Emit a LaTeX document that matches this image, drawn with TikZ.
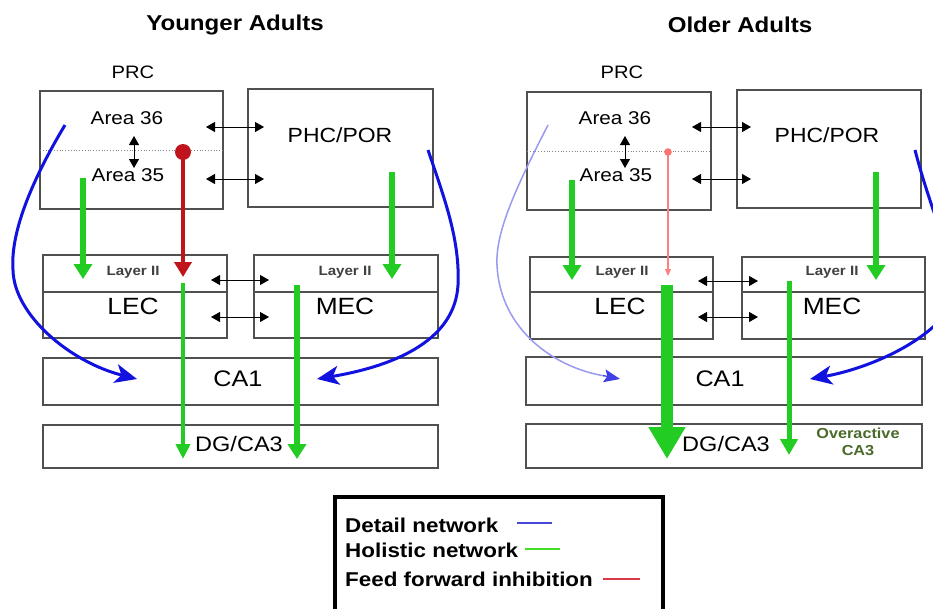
\documentclass[tikz,border=0pt]{standalone}
\usepackage{fontspec}
\setmainfont{Liberation Sans}[FakeStretch=1.12]
\usetikzlibrary{arrows.meta}
\definecolor{boxgrey}{HTML}{505050}
\definecolor{hgreen}{HTML}{22CC22}
\definecolor{dblue}{HTML}{1212E0}
\definecolor{lblue}{HTML}{9A9AF0}
\definecolor{ired}{HTML}{C0141C}
\definecolor{lred}{HTML}{FF8080}
\definecolor{ovgreen}{HTML}{4A6A2A}
\definecolor{legblue}{HTML}{4848D8}
\definecolor{leggreen}{HTML}{44DD22}
\definecolor{legred}{HTML}{D83848}
\newcommand{\fs}[1]{\fontsize{#1}{#1}\selectfont}
\tikzset{
  box/.style={draw=boxgrey, line width=1.5pt, inner sep=0pt, outer sep=0pt, anchor=north west},
  lbl/.style={inner sep=0pt, text=black},
  dbl/.style={black, line width=0.8pt, {Triangle[width=10pt,length=9pt]}-{Triangle[width=10pt,length=9pt]}},
  grarrow/.style={hgreen, line width=5.5pt, -{Triangle[width=18pt,length=15pt]}},
  thingr/.style={hgreen, line width=4pt, -{Triangle[width=14pt,length=15pt]}},
  bluearr/.style={dblue, line width=3pt, -{Stealth[width=19pt,length=22pt,inset=6pt]}},
  redarr/.style={ired, line width=4.5pt, -{Triangle[width=17pt,length=15pt]}},
}
\begin{document}
\begin{tikzpicture}[x=1pt,y=-1pt]
\useasboundingbox (0,0) rectangle (933,608);
\clip (0,0) rectangle (933,608);
\fill[white] (0,0) rectangle (933,608);

% ================= Younger adults =================
\node[lbl, font=\bfseries\fs{21.5}] (yTitle) at (235,25) {Younger Adults};
\node[lbl, font=\fs{18}] (yPRClab) at (133,72) {PRC};
\node[box, minimum width=183pt, minimum height=118pt] (yPRC) at (40,91) {};
\node[box, minimum width=185pt, minimum height=118pt] (yPHC) at (248,89) {};
\node[lbl, font=\fs{20.5}] (yPHCt) at (340,135) {PHC/POR};
\draw[boxgrey!70, line width=0.8pt, dotted] (40,150) coordinate (yDotL) -- (223,150) coordinate (yDotR);
\node[lbl, font=\fs{18.5}] (yA36) at (127,118) {Area 36};
\node[lbl, font=\fs{18.5}] (yA35) at (128,175) {Area 35};
\coordinate (yV1) at (134,136); \coordinate (yV2) at (134,168);
\draw[dbl] (yV1) -- (yV2);
\coordinate (yH1a) at (206,127); \coordinate (yH1b) at (264,127);
\coordinate (yH2a) at (206,179); \coordinate (yH2b) at (264,179);
\draw[dbl] (yH1a) -- (yH1b);
\draw[dbl] (yH2a) -- (yH2b);

\node[box, minimum width=184pt, minimum height=83pt] (yLEC) at (43,255) {};
\node[box, minimum width=184pt, minimum height=83pt] (yMEC) at (254,255) {};
\draw[boxgrey, line width=1.5pt] (43,292) -- (227,292);
\draw[boxgrey, line width=1.5pt] (254,292) -- (438,292);
\node[lbl, font=\bfseries\fs{13.5}, text=black!75] (yL2a) at (133,272) {Layer II};
\node[lbl, font=\bfseries\fs{13.5}, text=black!75] (yL2b) at (345,272) {Layer II};
\node[lbl, font=\fs{23.5}] (yLECt) at (133,306) {LEC};
\node[lbl, font=\fs{23.5}] (yMECt) at (345,306) {MEC};
\coordinate (yE1a) at (211,280); \coordinate (yE1b) at (269,280);
\coordinate (yE2a) at (211,317); \coordinate (yE2b) at (269,317);
\draw[dbl] (yE1a) -- (yE1b);
\draw[dbl] (yE2a) -- (yE2b);

\node[box, minimum width=395pt, minimum height=47pt] (yCA1) at (43,358) {};
\node[lbl, font=\fs{22.5}] (yCA1t) at (238,379) {CA1};
\node[box, minimum width=395pt, minimum height=43pt] (yDG) at (43,425) {};
\node[lbl, font=\fs{21}] (yDGt) at (239,444) {DG/CA3};

% younger connectors
\coordinate (yB1s) at (65,125); \coordinate (yB1e) at (137,379);
\draw[bluearr] (yB1s) .. controls (35,175) and (10,230) .. (13,270) .. controls (14,315) and (70,362) .. (yB1e);
\coordinate (yB2s) at (428,150); \coordinate (yB2e) at (317,379);
\draw[bluearr] (yB2s) .. controls (445,200) and (460,240) .. (458,285) .. controls (455,338) and (400,365) .. (yB2e);
\coordinate (yG1s) at (83,178); \coordinate (yG1e) at (83,279);
\draw[grarrow] (yG1s) -- (yG1e);
\coordinate (yG2s) at (392,172); \coordinate (yG2e) at (392,279);
\draw[grarrow] (yG2s) -- (yG2e);
\coordinate (yRs) at (183,152); \coordinate (yRe) at (183,277);
\draw[redarr] (yRs) -- (yRe);
\fill[ired] (yRs) circle (8pt);
\coordinate (yG3s) at (183,283); \coordinate (yG3e) at (183,459);
\draw[thingr] (yG3s) -- (yG3e);
\coordinate (yG4s) at (297,285); \coordinate (yG4e) at (297,459);
\draw[grarrow] (yG4s) -- (yG4e);

% ================= Older adults =================
\node[lbl, font=\bfseries\fs{21.5}] (oTitle) at (740,25) {Older Adults};
\node[lbl, font=\fs{18}] (oPRClab) at (622,72) {PRC};
\node[box, minimum width=184pt, minimum height=118pt] (oPRC) at (527,92) {};
\node[box, minimum width=184pt, minimum height=118pt] (oPHC) at (737,90) {};
\node[lbl, font=\fs{20.5}] (oPHCt) at (827,135) {PHC/POR};
\draw[boxgrey!70, line width=0.8pt, dotted] (527,151) coordinate (oDotL) -- (711,151) coordinate (oDotR);
\node[lbl, font=\fs{18.5}] (oA36) at (615,118) {Area 36};
\node[lbl, font=\fs{18.5}] (oA35) at (616,175) {Area 35};
\coordinate (oV1) at (625,136); \coordinate (oV2) at (625,168);
\draw[dbl] (oV1) -- (oV2);
\coordinate (oH1a) at (692,127); \coordinate (oH1b) at (751,127);
\coordinate (oH2a) at (692,179); \coordinate (oH2b) at (751,179);
\draw[dbl] (oH1a) -- (oH1b);
\draw[dbl] (oH2a) -- (oH2b);

\node[box, minimum width=183pt, minimum height=82pt] (oLEC) at (530,257) {};
\node[box, minimum width=183pt, minimum height=82pt] (oMEC) at (742,257) {};
\draw[boxgrey, line width=1.5pt] (530,292) -- (713,292);
\draw[boxgrey, line width=1.5pt] (742,292) -- (925,292);
\node[lbl, font=\bfseries\fs{13.5}, text=black!75] (oL2a) at (622,272) {Layer II};
\node[lbl, font=\bfseries\fs{13.5}, text=black!75] (oL2b) at (832,272) {Layer II};
\node[lbl, font=\fs{23.5}] (oLECt) at (620,306) {LEC};
\node[lbl, font=\fs{23.5}] (oMECt) at (832,306) {MEC};
\coordinate (oE1a) at (698,281); \coordinate (oE1b) at (758,281);
\coordinate (oE2a) at (698,317); \coordinate (oE2b) at (758,317);
\draw[dbl] (oE1a) -- (oE1b);
\draw[dbl] (oE2a) -- (oE2b);

\node[box, minimum width=396pt, minimum height=48pt] (oCA1) at (526,357) {};
\node[lbl, font=\fs{22.5}] (oCA1t) at (720,379) {CA1};
\node[box, minimum width=396pt, minimum height=44pt] (oDG) at (526,424) {};
\node[lbl, font=\fs{21}] (oDGt) at (726,444) {DG/CA3};
\node[lbl, font=\bfseries\fs{14.5}, text=ovgreen, align=center] (oOver) at (858,442) {Overactive\\[2pt]CA3};

% older connectors
\coordinate (oB1s) at (548,125); \coordinate (oB1e) at (620,379);
\draw[lblue, line width=1.5pt] (oB1s) .. controls (520,180) and (495,230) .. (497,265) .. controls (500,330) and (555,368) .. (605,376);
\draw[dblue!80, line width=1.2pt, -{Stealth[width=13pt,length=16pt,inset=3pt]}] (603,375.5) -- (oB1e);
\coordinate (oB2s) at (915,150); \coordinate (oB2e) at (810,379);
\draw[bluearr] (oB2s) .. controls (938,240) and (978,300) .. (933,327) .. controls (905,352) and (860,370) .. (oB2e);
\coordinate (oG1s) at (572,180); \coordinate (oG1e) at (572,280);
\draw[grarrow] (oG1s) -- (oG1e);
\coordinate (oG2s) at (876,172); \coordinate (oG2e) at (876,280);
\draw[grarrow] (oG2s) -- (oG2e);
\coordinate (oRs) at (668,152); \coordinate (oRe) at (668,276);
\draw[lred, line width=1.2pt, -{Triangle[width=6pt,length=7pt]}] (oRs) -- (oRe);
\fill[lred!90!red] (oRs) circle (3.8pt);
\coordinate (oG3s) at (667,285); \coordinate (oG3e) at (667,459);
\draw[hgreen, line width=12pt, -{Triangle[width=35pt,length=32pt]}] (oG3s) -- (oG3e);
\coordinate (oG4s) at (789,281); \coordinate (oG4e) at (789,455);
\draw[hgreen, line width=5pt, -{Triangle[width=17pt,length=16pt]}] (oG4s) -- (oG4e);

% ================= Legend =================
\node[draw=black, line width=4.5pt, inner sep=0pt, outer sep=0pt, anchor=north west,
      minimum width=328pt, minimum height=125pt] (legend) at (335,497) {};
\node[lbl, font=\bfseries\fs{20}, anchor=west] (lDet) at (345,525) {Detail network};
\node[lbl, font=\bfseries\fs{20}, anchor=west] (lHol) at (345,550) {Holistic network};
\node[lbl, font=\bfseries\fs{20}, anchor=west] (lFF) at (345,579) {Feed forward inhibition};
\coordinate (lB1) at (517,523); \coordinate (lB2) at (552,523);
\coordinate (lG1) at (525,549); \coordinate (lG2) at (560,549);
\coordinate (lR1) at (603,579); \coordinate (lR2) at (640,579);
\draw[legblue, line width=2.6pt] (lB1) -- (lB2);
\draw[leggreen, line width=2.6pt] (lG1) -- (lG2);
\draw[legred, line width=2.6pt] (lR1) -- (lR2);
\end{tikzpicture}
\end{document}
